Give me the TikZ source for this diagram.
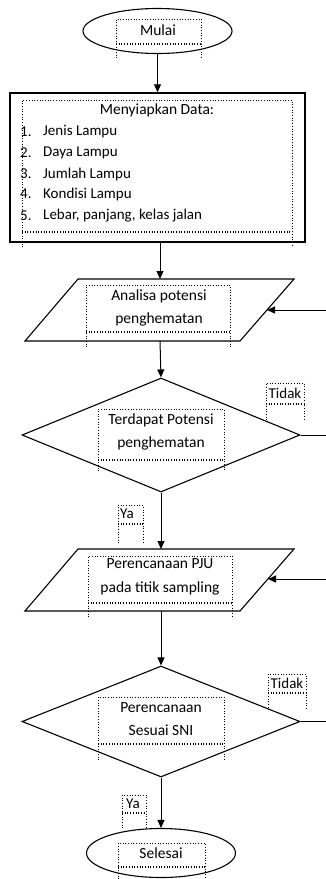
\documentclass[tikz,border=0pt]{standalone}
\usepackage{fontspec}
\setmainfont{Carlito}
\usetikzlibrary{shapes.geometric,arrows.meta}
\newcommand{\mytbox}[5]{%
  \draw[tb] (#1,#5) -- (#1,#2) -- (#3,#2) -- (#3,#5);
  \draw[tb] (#1,#4) -- (#3,#4);
  \draw[tb] (#1,#4+1.5) -- (#3,#4+1.5);}
\begin{document}
\begin{tikzpicture}[x=1pt,y=-1pt,
  shp/.style={draw=black, line width=1.1pt, fill=white},
  flow/.style={-{Triangle[length=8pt,width=7pt]}, line width=1pt},
  plain/.style={line width=1pt},
  tb/.style={draw=black, dotted, line width=0.7pt},
  txt/.style={font=\fontsize{15.5}{23.5}\selectfont, align=center, inner sep=0pt, text=black},
  lbl/.style={font=\fontsize{15}{17}\selectfont, inner sep=0pt, text=black}]
\useasboundingbox (0,0) rectangle (326,879);

% Start
\node[shp, ellipse, minimum width=149pt, minimum height=45pt] (start) at (157.5,31) {};
\mytbox{116}{19}{201}{43}{58}
\node[txt] (tstart) at (158,30) {Mulai};

% Data box
\node[draw=black, line width=1.5pt, minimum width=295pt, minimum height=149pt, inner sep=0pt] (data) at (157.5,167.5) {};
\mytbox{22}{100}{292}{231}{247}
\node[txt] (ttitle) at (157,110) {Menyiapkan Data:};
\foreach \n/\t/\yy in {1/Jenis Lampu/132, 2/Daya Lampu/153, 3/Jumlah Lampu/174, 4/Kondisi Lampu/194, 5/{Lebar, panjang, kelas jalan}/216}{
  \node[lbl, anchor=west] (num\n) at (20,\yy) {\n.};
  \node[lbl, anchor=west] (item\n) at (43,\yy) {\t};
}

% Parallelogram 1
\coordinate (p1n) at (160,279);
\coordinate (p1s) at (160,341);
\coordinate (p1e) at (267,310);
\draw[shp] (78,279) -- (294,279) -- (240,341) -- (25,341) -- cycle;
\mytbox{86}{285}{230}{331}{347}
\node[txt] (tp1) at (159,308) {Analisa potensi\\penghematan};

% Diamond 1
\node[shp, diamond, minimum width=278pt, minimum height=114pt, inner sep=0pt] (d1) at (161,435) {};
\mytbox{98}{409}{224}{459}{471}
\node[txt] (td1) at (161,432) {Terdapat Potensi\\penghematan};
\mytbox{266}{383}{304}{403}{420}
\node[lbl] (no1) at (285,393) {Tidak};
\coordinate (r1) at (326,435);
\coordinate (r1b) at (326,310);

% Parallelogram 2
\coordinate (p2n) at (161,549);
\coordinate (p2s) at (161,611);
\coordinate (p2e) at (268,579);
\draw[shp] (78,549) -- (294,549) -- (240,611) -- (25,611) -- cycle;
\mytbox{88}{556}{232}{602}{617}
\node[txt] (tp2) at (160,577) {Perencanaan PJU\\pada titik sampling};
\mytbox{118}{505}{143}{523}{543}
\node[lbl] (yes1) at (127,514) {Ya};

% Diamond 2
\node[shp, diamond, minimum width=278pt, minimum height=111pt, inner sep=0pt] (d2) at (161,721.5) {};
\mytbox{98}{697}{224}{743}{760}
\node[txt] (td2) at (161,719) {Perencanaan\\Sesuai SNI};
\mytbox{268}{674}{306}{692}{710}
\node[lbl] (no2) at (287,683) {Tidak};
\coordinate (r2) at (326,721.5);
\coordinate (r2b) at (326,579);

% End
\node[shp, ellipse, minimum width=149pt, minimum height=49pt] (stop) at (161,853) {};
\mytbox{118}{843}{205}{866}{879}
\node[txt] (tstop) at (161,853) {Selesai};
\mytbox{122}{795}{146}{812}{828}
\node[lbl] (yes2) at (133,804) {Ya};

% Connectors
\draw[flow] (start) -- (data);
\draw[flow] (data.south -| p1n) -- (p1n);
\draw[flow] (p1s) -- (d1.north);
\draw[flow] (d1.south) -- (p2n);
\draw[flow] (p2s) -- (d2.north);
\draw[flow] (d2.south) -- (stop.north);
\draw[plain] (d1.east) -- (r1);
\draw[flow] (r1b) -- (p1e);
\draw[plain] (d2.east) -- (r2);
\draw[flow] (r2b) -- (p2e);
\end{tikzpicture}
\end{document}
